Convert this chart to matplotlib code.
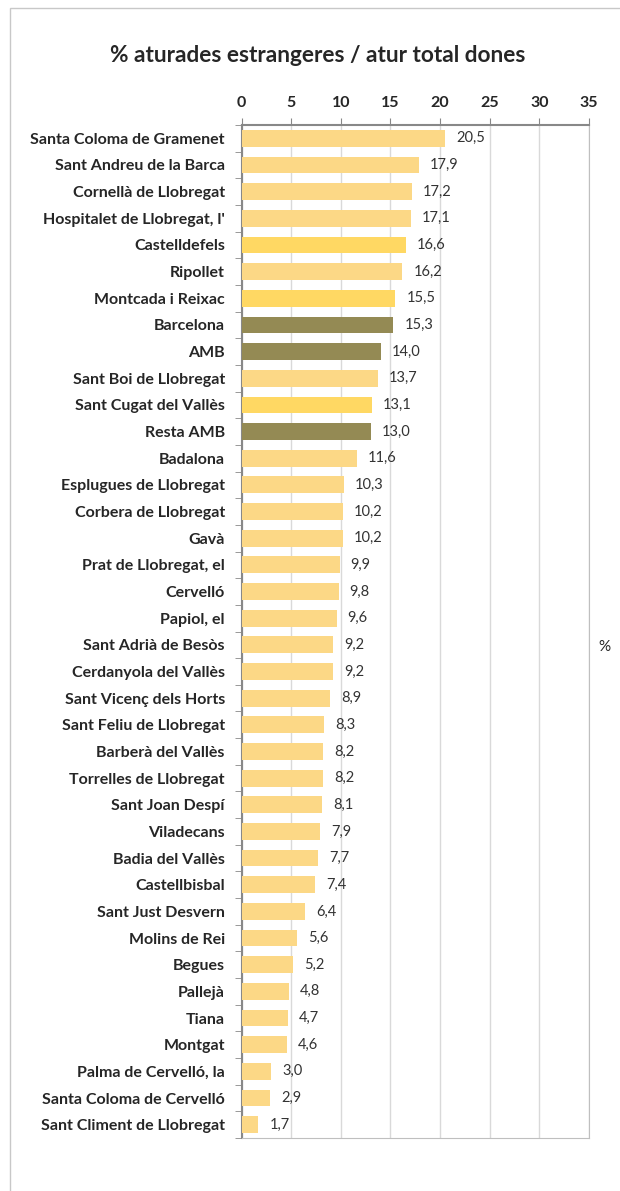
import numpy as np
import matplotlib.pyplot as plt
from matplotlib.patches import Rectangle

plt.rcParams['font.family'] = ['Lato', 'DejaVu Sans']

municipis = ['Santa Coloma de Gramenet', 'Sant Andreu de la Barca', 'Cornellà de Llobregat',
             "Hospitalet de Llobregat, l'", 'Castelldefels', 'Ripollet', 'Montcada i Reixac',
             'Barcelona', 'AMB', 'Sant Boi de Llobregat', 'Sant Cugat del Vallès', 'Resta AMB',
             'Badalona', 'Esplugues de Llobregat', 'Corbera de Llobregat', 'Gavà',
             'Prat de Llobregat, el', 'Cervelló', 'Papiol, el', 'Sant Adrià de Besòs',
             'Cerdanyola del Vallès', 'Sant Vicenç dels Horts', 'Sant Feliu de Llobregat',
             'Barberà del Vallès', 'Torrelles de Llobregat', 'Sant Joan Despí', 'Viladecans',
             'Badia del Vallès', 'Castellbisbal', 'Sant Just Desvern', 'Molins de Rei', 'Begues',
             'Pallejà', 'Tiana', 'Montgat', 'Palma de Cervelló, la', 'Santa Coloma de Cervelló',
             'Sant Climent de Llobregat']
valors = [20.5, 17.9, 17.2, 17.1, 16.6, 16.2, 15.5, 15.3, 14.0, 13.7, 13.1, 13.0, 11.6, 10.3,
          10.2, 10.2, 9.9, 9.8, 9.6, 9.2, 9.2, 8.9, 8.3, 8.2, 8.2, 8.1, 7.9, 7.7, 7.4, 6.4, 5.6,
          5.2, 4.8, 4.7, 4.6, 3.0, 2.9, 1.7]
# tipus: 0 = municipi, 1 = destacat, 2 = agregat
tipus = [0, 0, 0, 0, 1, 0, 1, 2, 2, 0, 1, 2] + [0] * 26
colors_tipus = {0: '#FCD886', 1: '#FFD863', 2: '#948A54'}
ticks_x = [0, 5, 10, 15, 20, 25, 30, 35]

fig = plt.figure(figsize=(6.2, 11.91), dpi=100)
fig.patches.append(Rectangle((10 / 620, -0.1), 1.2, 1 - 8 / 1191 + 0.1, transform=fig.transFigure,
                             fill=False, edgecolor='#C8C8C8', linewidth=1.0))
ax = fig.add_axes([241.5 / 620, 1 - 1138 / 1191, 347.5 / 620, 1013 / 1191])

y = np.arange(len(municipis))
cols = [colors_tipus[t] for t in tipus]
ax.barh(y, valors, height=0.63, color=cols, zorder=3)
for yi, v in zip(y, valors):
    ax.text(v + 1.1, yi, ('%.1f' % v).replace('.', ','), va='center', ha='left',
            fontsize=10.5, color='#333333')

ax.set_xlim(0, 35)
ax.set_ylim(len(municipis) - 0.5, -0.5)
ax.xaxis.tick_top()
ax.set_xticks(ticks_x)
ax.set_xticklabels([str(t) for t in ticks_x], fontsize=11.5, fontweight='bold', color='#262626')
ax.tick_params(axis='x', length=5, color='#888888', pad=6)
ax.grid(axis='x', color='#D9D9D9', linewidth=1, zorder=0)

ax.set_yticks(y)
ax.set_yticklabels(municipis, fontsize=11.5, fontweight='bold', color='#262626')
ax.set_yticks(np.arange(len(municipis) + 1) - 0.5, minor=True)
ax.tick_params(axis='y', which='major', length=0, pad=12)
ax.tick_params(axis='y', which='minor', length=5, color='#888888')

for s in ['top', 'left']:
    ax.spines[s].set_color('#888888')
    ax.spines[s].set_linewidth(1.5)
ax.spines['right'].set_color('#BFBFBF')
ax.spines['bottom'].set_color('#BFBFBF')

fig.text(604 / 620, 1 - 647 / 1191, '%', ha='center', va='center', fontsize=11,
         color='#262626')

fig.text(318 / 620, 1 - 55 / 1191, '% aturades estrangeres / atur total dones', ha='center',
         va='center', fontsize=16.3, fontweight='bold', color='#262626')

fig.savefig('out.png', dpi=100)
